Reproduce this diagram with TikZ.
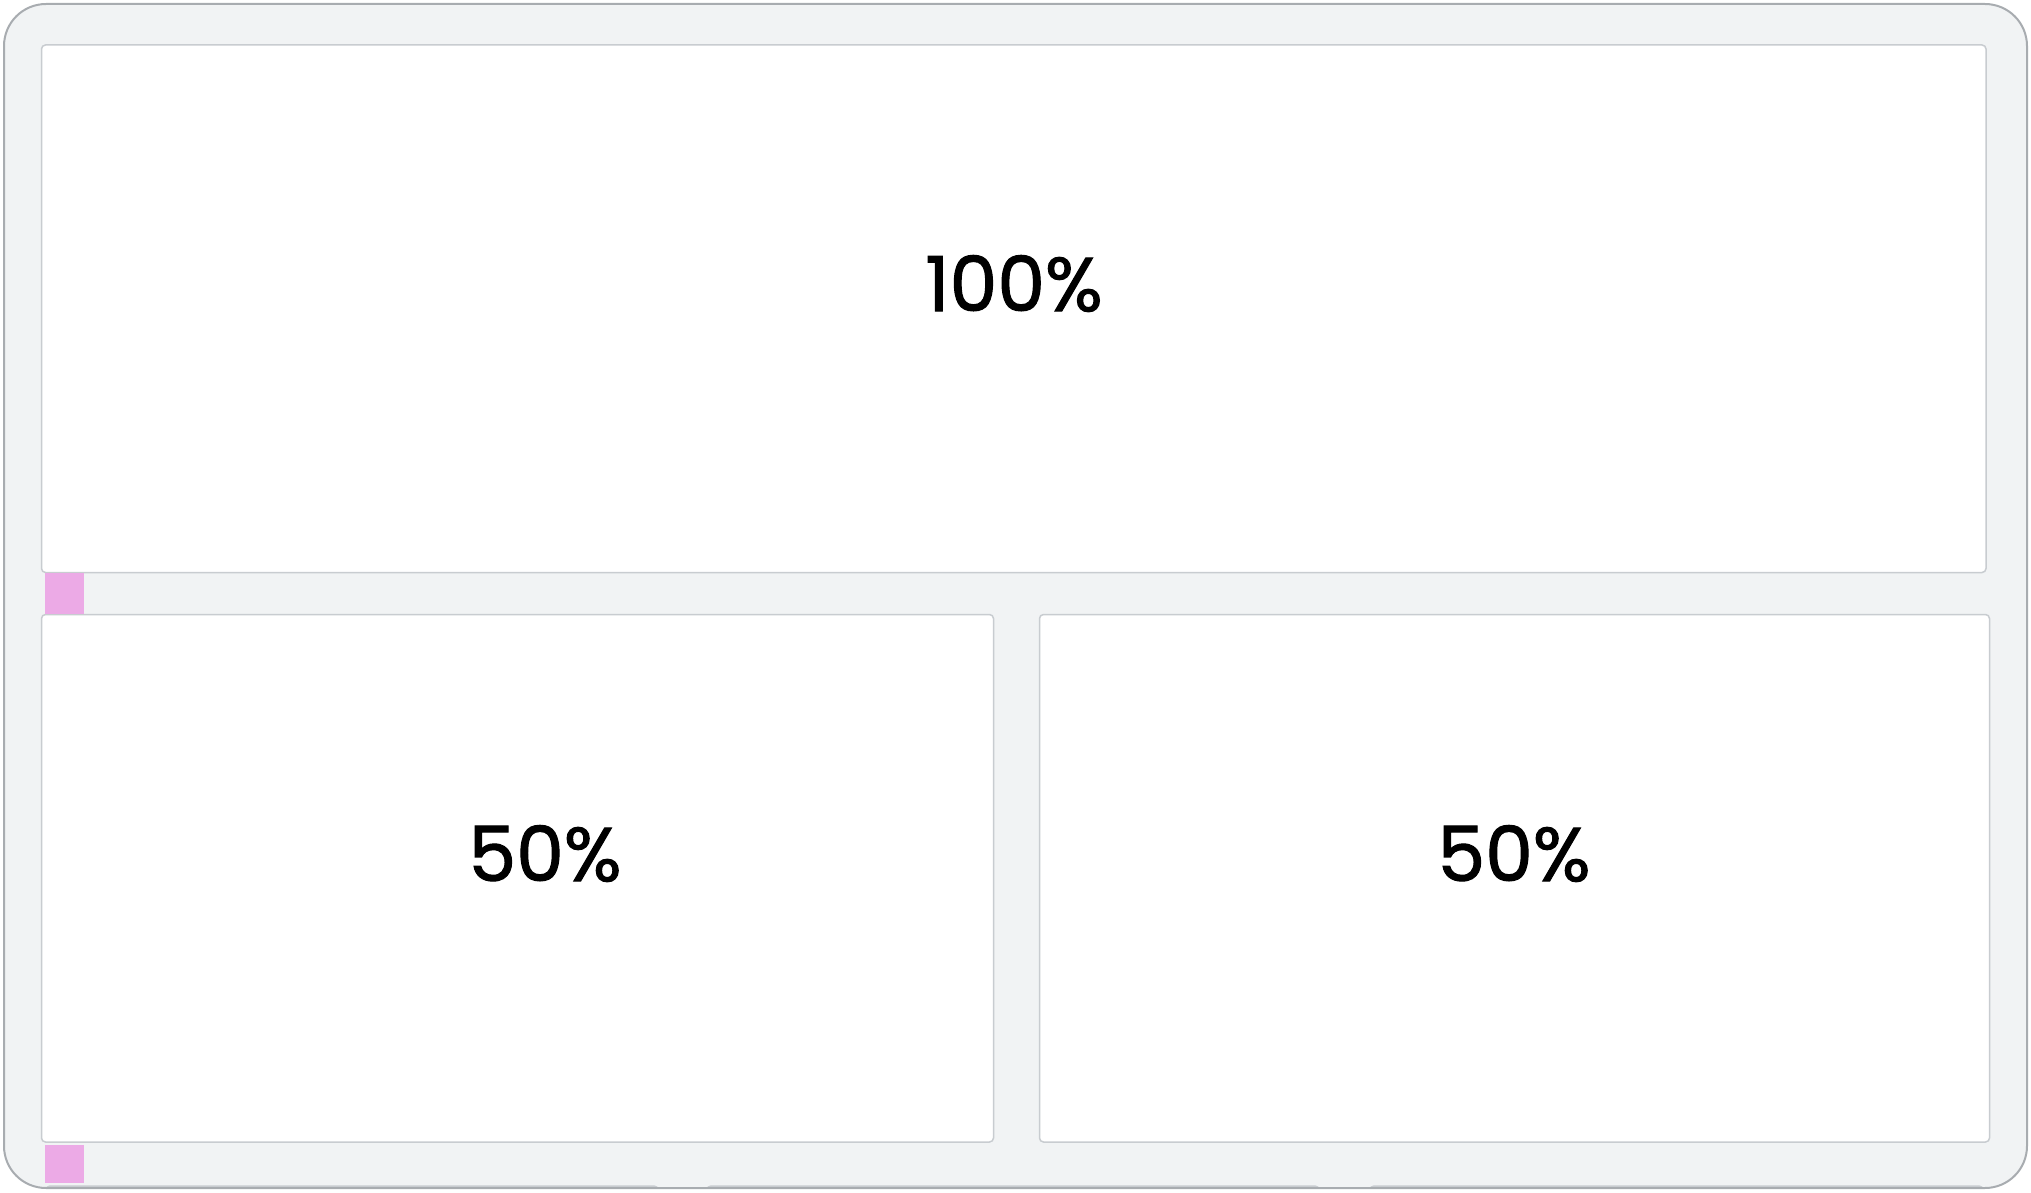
\documentclass[tikz,border=0pt]{standalone}
\usepackage{fontspec}
\setmainfont{Poppins}
\newfontfamily\sharefont{Poppins}[FakeBold=1.4]
\usepackage{xcolor}
\usetikzlibrary{positioning}

\definecolor{framegray}{RGB}{241,243,244}
\definecolor{frameline}{RGB}{168,172,176}
\definecolor{panelline}{RGB}{200,204,208}
\definecolor{padpink}{RGB}{236,170,230}

\tikzset{
  panel/.style={draw=panelline, line width=0.75pt, fill=white, rounded corners=2pt, anchor=north west, inner sep=0pt, outer sep=0pt},
  pad/.style={fill=padpink, minimum width=19.5pt, anchor=north west, inner sep=0pt},
  share/.style={font=\sharefont\fontsize{38}{40}\selectfont, anchor=base, inner sep=0pt}
}

\begin{document}
\begin{tikzpicture}[x=0.5pt, y=-0.5pt]
	\useasboundingbox (0,0) rectangle (2031,1193);
	\fill[framegray, rounded corners=21pt] (4,4) rectangle (2027,1188);

	% next row of cards, cut off by the frame
	\begin{scope}
		\clip[rounded corners=21pt] (4,4) rectangle (2027,1188);
		\foreach \x/\w in {46/612, 707/612, 1370/613}
			\draw[panelline, line width=0.75pt, fill=white, rounded corners=2pt] (\x,1186) rectangle ++(\w,300);
	\end{scope}
	\draw[frameline, line width=1pt, rounded corners=21pt] (4,4) rectangle (2027,1188);

	\node[panel, minimum width=972.25pt, minimum height=263.75pt] (top) at (41.5,45) {};
	\node[panel, minimum width=476pt, minimum height=263.75pt, below=21pt of top.south west, anchor=north west] (left) {};
	\node[panel, minimum width=475pt, minimum height=263.75pt, right=23pt of left.north east, anchor=north west] (right) {};

	\node[pad, minimum height=20.5pt] (pad1) at (45,573) {};
	\node[pad, minimum height=19pt] (pad2) at (45,1145) {};

	\node[share] (full) at (1014,311) {100\%};
	\node[share] (halfleft) at (545,881) {50\%};
	\node[share] (halfright) at (1514,881) {50\%};
\end{tikzpicture}
\end{document}
